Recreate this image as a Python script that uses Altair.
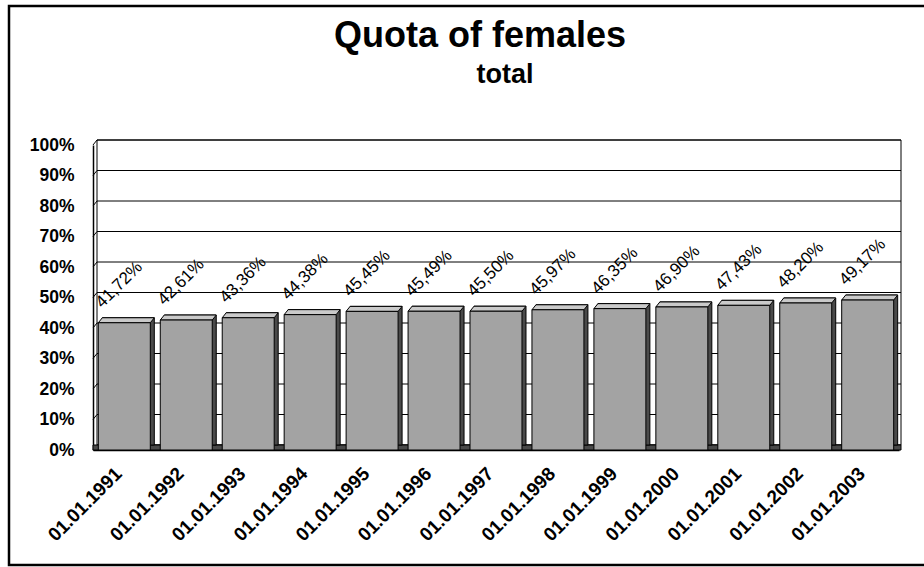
import altair as alt
import pandas as pd

# Share of women among all employees, at the start of each year
dates = [
    "01.01.1991", "01.01.1992", "01.01.1993", "01.01.1994", "01.01.1995",
    "01.01.1996", "01.01.1997", "01.01.1998", "01.01.1999", "01.01.2000",
    "01.01.2001", "01.01.2002", "01.01.2003",
]
quota = [
    0.4172, 0.4261, 0.4336, 0.4438, 0.4545, 0.4549, 0.4550,
    0.4597, 0.4635, 0.4690, 0.4743, 0.4820, 0.4917,
]
y_ticks = [0.0, 0.1, 0.2, 0.3, 0.4, 0.5, 0.6, 0.7, 0.8, 0.9, 1.0]

# German-style percent labels (decimal comma), taken from the same values
labels = [f"{v * 100:.2f}%".replace(".", ",") for v in quota]

bars = pd.DataFrame({"date": dates, "v": quota, "label": labels})
grid = pd.DataFrame({"tick": y_ticks})
one = alt.Data(values=[{}])

FONT = "Liberation Sans"
W, H = 806, 305          # front plane of the plot
DX, DY = 4, -5           # depth offset of the 3-D look
PAD_INNER, PAD_OUTER = 0.161, 0.086
step = W / (len(dates) - PAD_INNER + 2 * PAD_OUTER)
bw = step * (1 - PAD_INNER)
half = bw / 2

FRONT = "#a3a3a3"
TOP = "#cacaca"
SIDE = "#4a4a4a"
ANGLE = 315

x_scale = alt.Scale(paddingInner=PAD_INNER, paddingOuter=PAD_OUTER)
y_scale = alt.Scale(domain=[0, 1], nice=False)
x_axis = alt.Axis(
    title=None, labelAngle=ANGLE, labelFont=FONT, labelFontSize=19,
    labelFontWeight="bold", labelColor="black", ticks=False,
    domainColor="black", domainWidth=1.5, labelPadding=14, labelOffset=-12,
)
y_axis = alt.Axis(
    title=None, values=y_ticks, format=".0%", labelFont=FONT,
    labelFontSize=17.5, labelFontWeight="bold", labelColor="black",
    ticks=False, grid=False, domainColor="black", domainWidth=1.5,
    labelPadding=19,
)


def X():
    return alt.X("date:N", sort=dates, scale=x_scale, axis=x_axis)


def Y(field):
    return alt.Y(f"{field}:Q", scale=y_scale, axis=y_axis)


# outer frame around the whole chart
frame = alt.Chart(one).mark_rect(
    fillOpacity=0, stroke="black", strokeWidth=2.5
).encode(
    x=alt.value(-84), x2=alt.value(W + 40),
    y=alt.value(-139), y2=alt.value(H + 115),
)

# back wall, its gridlines and the slanted ticks of the side wall
wall = alt.Chart(one).mark_rect(fill="white", stroke="black", strokeWidth=1).encode(
    x=alt.value(DX), x2=alt.value(W + 2),
    y=alt.value(DY), y2=alt.value(H + DY),
)
gridlines = alt.Chart(grid).mark_rule(color="black", strokeWidth=1, yOffset=DY).encode(
    x=alt.value(DX), x2=alt.value(W + 2), y=Y("tick"),
)
wall_ticks = alt.Chart(grid).mark_rule(color="black", strokeWidth=1, y2Offset=DY).encode(
    x=alt.value(0), x2=alt.value(DX), y=Y("tick"), y2="tick:Q",
)
floor = alt.Chart(one).mark_rect(fill=SIDE, stroke="black", strokeWidth=1).encode(
    x=alt.value(0), x2=alt.value(W + 2),
    y=alt.value(H + DY), y2=alt.value(H),
)

base = alt.Chart(bars)

# right-hand side of each column: the column pushed back by the depth offset
side = base.mark_bar(
    fill=SIDE, stroke="black", strokeWidth=1,
    xOffset=DX, x2Offset=DX, yOffset=DY, y2Offset=DY,
).encode(x=X(), y=Y("v"))

# lid of each column: a parallelogram sitting on the column's top edge
lid_path = (
    f"M-1,0 L1,0 L{1 + DX / half:.4f},{DY / half:.4f} "
    f"L{-1 + DX / half:.4f},{DY / half:.4f} Z"
)
lid = base.mark_point(
    shape=lid_path, size=bw * bw, filled=True, opacity=1,
    fill=TOP, stroke="black", strokeWidth=1,
).encode(x=X(), y=Y("v"))

front = base.mark_bar(fill=FRONT, stroke="black", strokeWidth=1).encode(
    x=X(), y=Y("v"),
)

values = base.mark_text(
    angle=ANGLE, align="left", baseline="alphabetic",
    xOffset=-half + 4, yOffset=-14,
    font=FONT, fontSize=17, color="black",
).encode(x=X(), y=Y("v"), text="label:N")

title = alt.Chart(one).mark_text(
    font=FONT, fontSize=36, fontWeight="bold", color="black",
    align="center", baseline="alphabetic",
).encode(x=alt.value(480 - 93), y=alt.value(47 - 145), text=alt.value("Quota of females"))

subtitle = alt.Chart(one).mark_text(
    font=FONT, fontSize=27, fontWeight="bold", color="black",
    align="center", baseline="alphabetic",
).encode(x=alt.value(505 - 93), y=alt.value(83 - 145), text=alt.value("total"))

chart = alt.layer(
    frame, wall, gridlines, wall_ticks, floor, side, lid, front, values,
    title, subtitle,
).properties(
    width=W, height=H,
    autosize=alt.AutoSizeParams(type="none"),
    padding={"left": 93, "top": 145, "right": 924 - 93 - W, "bottom": 567 - 145 - H},
    background="white",
).configure_view(stroke=None)

chart.save("out.html", embed_options={"renderer": "svg", "actions": False})
